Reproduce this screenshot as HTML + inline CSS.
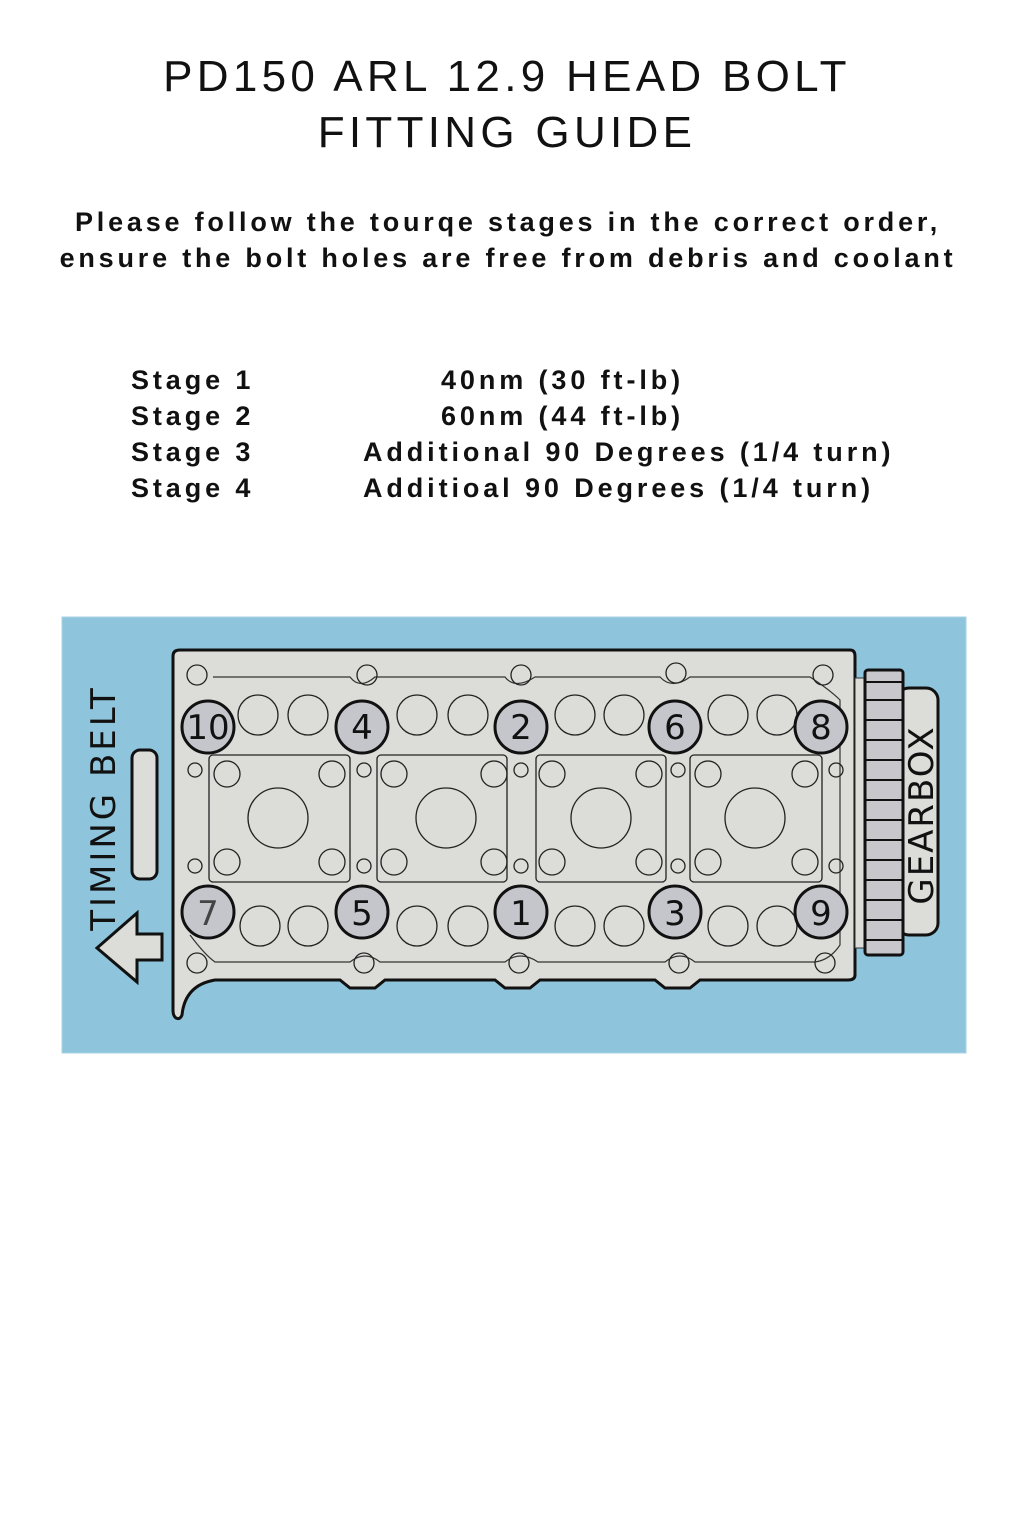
<!DOCTYPE html>
<html><head><style>
body{margin:0;width:1024px;height:1536px;background:#fff;position:relative;font-family:"Liberation Sans",sans-serif;overflow:hidden}
.t{position:absolute;left:0;width:1014px;text-align:center;font-size:44px;letter-spacing:4.3px;color:#111}
.s{position:absolute;left:0;width:1016px;text-align:center;font-size:27px;font-weight:bold;letter-spacing:3.8px;color:#111}
.st{position:absolute;font-size:27px;font-weight:bold;letter-spacing:3.9px;color:#111;white-space:nowrap}
</style></head><body>
<div class="t" style="top:52px">PD150 ARL 12.9 HEAD BOLT</div>
<div class="t" style="top:108px">FITTING GUIDE</div>
<div class="s" style="top:207px">Please follow the tourqe stages in the correct order,</div>
<div class="s" style="top:243px">ensure the bolt holes are free from debris and coolant</div>
<div class="st" style="left:131px;top:365px">Stage 1</div>
<div class="st" style="left:131px;top:401px">Stage 2</div>
<div class="st" style="left:131px;top:437px">Stage 3</div>
<div class="st" style="left:131px;top:473px">Stage 4</div>
<div class="st" style="left:441px;top:365px">40nm (30 ft-lb)</div>
<div class="st" style="left:441px;top:401px">60nm (44 ft-lb)</div>
<div class="st" style="left:363px;top:437px">Additional 90 Degrees (1/4 turn)</div>
<div class="st" style="left:363px;top:473px">Additioal 90 Degrees (1/4 turn)</div>
<svg style="position:absolute;left:0;top:0" width="1024" height="1536">
<rect x="62" y="617" width="904" height="436" fill="#8ec5dc" stroke="#a9d2e4"/>
<path d="M180 650 H850 Q855 650 855 656 V975 Q855 980 848 980 H700 L690 988 H665 L655 980 H540 L530 988 H505 L495 980 H385 L375 988 H350 L340 980 H215 Q185 985 182 1015 Q180 1020 176 1018 Q173 1016 173 1010 V656 Q173 650 180 650 Z" fill="#dcdcd8" stroke="#111" stroke-width="3"/>
<path d="M213 677 H350 Q360 690 375 677 H505 Q515 690 535 677 H660 Q672 690 690 677 H810 Q830 690 840 700 V945 Q830 960 815 962 H695 Q680 950 665 962 H538 Q520 950 505 962 H380 Q365 950 350 962 H215 Q205 955 190 935" fill="none" stroke="#333" stroke-width="1.2"/>
<g fill="none" stroke="#222" stroke-width="1.3">
<rect x="209" y="755" width="141" height="127" rx="4"/>
<rect x="377" y="755" width="130" height="127" rx="4"/>
<rect x="536" y="755" width="130" height="127" rx="4"/>
<rect x="690" y="755" width="132" height="127" rx="4"/>
<circle cx="278" cy="818" r="30"/><circle cx="446" cy="818" r="30"/><circle cx="601" cy="818" r="30"/><circle cx="755" cy="818" r="30"/>
<circle cx="227" cy="774" r="13"/><circle cx="332" cy="774" r="13"/><circle cx="227" cy="862" r="13"/><circle cx="332" cy="862" r="13"/>
<circle cx="394" cy="774" r="13"/><circle cx="494" cy="774" r="13"/><circle cx="394" cy="862" r="13"/><circle cx="494" cy="862" r="13"/>
<circle cx="552" cy="774" r="13"/><circle cx="649" cy="774" r="13"/><circle cx="552" cy="862" r="13"/><circle cx="649" cy="862" r="13"/>
<circle cx="708" cy="774" r="13"/><circle cx="805" cy="774" r="13"/><circle cx="708" cy="862" r="13"/><circle cx="805" cy="862" r="13"/>
<circle cx="195" cy="770" r="7"/><circle cx="364" cy="770" r="7"/><circle cx="521" cy="770" r="7"/><circle cx="678" cy="770" r="7"/><circle cx="836" cy="770" r="7"/>
<circle cx="195" cy="866" r="7"/><circle cx="364" cy="866" r="7"/><circle cx="521" cy="866" r="7"/><circle cx="678" cy="866" r="7"/><circle cx="836" cy="866" r="7"/>
<circle cx="197" cy="675" r="10"/><circle cx="367" cy="675" r="10"/><circle cx="521" cy="675" r="10"/><circle cx="676" cy="673" r="10"/><circle cx="823" cy="675" r="10"/>
<circle cx="197" cy="963" r="10"/><circle cx="364" cy="963" r="10"/><circle cx="519" cy="963" r="10"/><circle cx="679" cy="963" r="10"/><circle cx="825" cy="963" r="10"/>
<circle cx="258" cy="715" r="20"/><circle cx="308" cy="715" r="20"/><circle cx="417" cy="715" r="20"/><circle cx="468" cy="715" r="20"/><circle cx="575" cy="715" r="20"/><circle cx="624" cy="715" r="20"/><circle cx="728" cy="715" r="20"/><circle cx="777" cy="715" r="20"/>
<circle cx="260" cy="926" r="20"/><circle cx="308" cy="926" r="20"/><circle cx="417" cy="926" r="20"/><circle cx="468" cy="926" r="20"/><circle cx="575" cy="926" r="20"/><circle cx="624" cy="926" r="20"/><circle cx="728" cy="926" r="20"/><circle cx="777" cy="926" r="20"/>
</g>
<g fill="#c4c6cc" stroke="#111" stroke-width="3">
<circle cx="208" cy="727" r="26"/><circle cx="362" cy="727" r="26"/><circle cx="521" cy="727" r="26"/><circle cx="675" cy="727" r="26"/><circle cx="821" cy="727" r="26"/>
<circle cx="208" cy="912" r="26"/><circle cx="362" cy="912" r="26"/><circle cx="521" cy="912" r="26"/><circle cx="675" cy="912" r="26"/><circle cx="821" cy="912" r="26"/>
</g>
<g font-family="DejaVu Sans,sans-serif" font-size="34" text-anchor="middle" fill="#111">
<text x="208" y="739">10</text><text x="362" y="739">4</text><text x="521" y="739">2</text><text x="675" y="739">6</text><text x="821" y="739">8</text>
<text x="208" y="925" fill="#444">7</text><text x="362" y="925">5</text><text x="521" y="925">1</text><text x="675" y="925">3</text><text x="821" y="925">9</text>
</g>
<rect x="855" y="678" width="12" height="270" fill="#dcdcd8" stroke="#333"/>
<rect x="897" y="688" width="41" height="247" rx="12" fill="#dcdcd8" stroke="#111" stroke-width="3"/>
<rect x="865" y="670" width="38" height="285" rx="3" fill="#c8c8cc" stroke="#111" stroke-width="3"/>
<g stroke="#111" stroke-width="2">
<line x1="865" y1="682" x2="903" y2="682"/><line x1="865" y1="700" x2="903" y2="700"/><line x1="865" y1="720" x2="903" y2="720"/><line x1="865" y1="740" x2="903" y2="740"/><line x1="865" y1="760" x2="903" y2="760"/><line x1="865" y1="780" x2="903" y2="780"/><line x1="865" y1="800" x2="903" y2="800"/><line x1="865" y1="820" x2="903" y2="820"/><line x1="865" y1="840" x2="903" y2="840"/><line x1="865" y1="860" x2="903" y2="860"/><line x1="865" y1="880" x2="903" y2="880"/><line x1="865" y1="900" x2="903" y2="900"/><line x1="865" y1="920" x2="903" y2="920"/><line x1="865" y1="940" x2="903" y2="940"/>
</g>
<text transform="translate(933,815) rotate(-90)" text-anchor="middle" font-family="DejaVu Sans,sans-serif" font-size="34" letter-spacing="2" fill="#111">GEARBOX</text>
<text transform="translate(115,808) rotate(-90)" text-anchor="middle" font-family="DejaVu Sans,sans-serif" font-size="34" letter-spacing="3" fill="#111">TIMING BELT</text>
<rect x="132" y="750" width="25" height="129" rx="8" fill="#dcdcd8" stroke="#111" stroke-width="3"/>
<path d="M97 948 L137 913 V934 H162 V960 H137 V982 Z" fill="#dcdcd8" stroke="#111" stroke-width="3" stroke-linejoin="miter"/>
</svg>
</body></html>
